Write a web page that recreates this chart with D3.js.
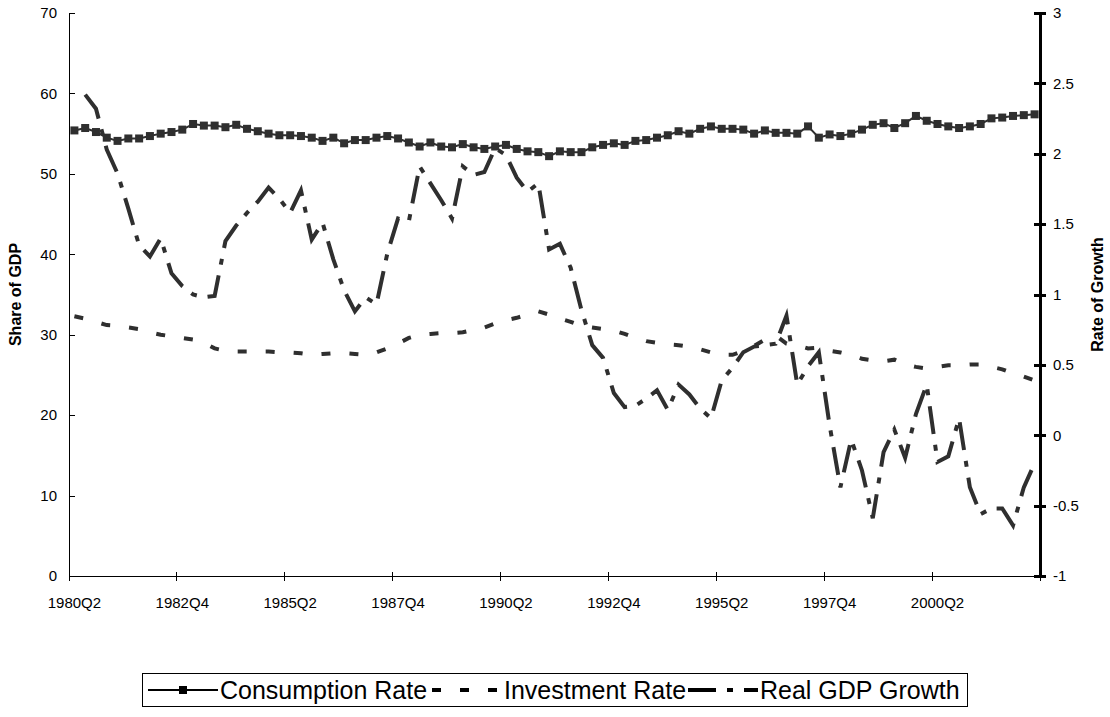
<!DOCTYPE html>
<html>
  <head>
    <meta charset="utf-8">
    <title>rates</title>
    <script type="text/javascript" src="https://cdn.jsdelivr.net/npm/d3@7"></script>
    <style type="text/css">
      body { margin: 0; background: #fff; }
      svg text { font-family: "Liberation Sans", Arial, sans-serif; fill: #000; }
      .axis path, .axis line { fill: none; stroke: #000; shape-rendering: crispEdges; }
      .axis text { font-size: 15px; }
    </style>
  </head>
  <body>
    <script type="text/javascript">
      var w = 1110, h = 717;

      // categories: quarters from 1980Q2, 90 of them
      var startYear = 1980, startQ = 2, nQuarters = 90;
      var quarters = [];
      for (var i = 0; i < nQuarters; i++) {
        var q = startQ - 1 + i;
        quarters.push((startYear + Math.floor(q / 4)) + "Q" + (q % 4 + 1));
      }
      var tickLabels = ["1980Q2", "1982Q4", "1985Q2", "1987Q4", "1990Q2", "1992Q4", "1995Q2", "1997Q4", "2000Q2"];

      var consumption = [
        55.4, 55.7, 55.2, 54.5, 54.1, 54.4, 54.4, 54.7, 55.0, 55.2,
        55.5, 56.2, 56.0, 56.0, 55.8, 56.1, 55.6, 55.3, 55.0, 54.8,
        54.8, 54.7, 54.5, 54.1, 54.5, 53.8, 54.2, 54.2, 54.5, 54.7,
        54.4, 53.9, 53.4, 53.9, 53.4, 53.3, 53.7, 53.3, 53.1, 53.4,
        53.6, 53.1, 52.8, 52.7, 52.2, 52.8, 52.7, 52.7, 53.3, 53.6,
        53.8, 53.6, 54.1, 54.2, 54.5, 54.8, 55.3, 55.0, 55.6, 55.9,
        55.6, 55.6, 55.5, 55.0, 55.4, 55.1, 55.1, 55.0, 55.9, 54.5,
        54.9, 54.7, 55.0, 55.5, 56.1, 56.3, 55.7, 56.3, 57.2, 56.6,
        56.2, 55.9, 55.7, 55.9, 56.2, 56.9, 57.0, 57.2, 57.3, 57.4
      ];
      var investment = [
        32.3, 32.0, 31.6, 31.2, 31.1, 30.9, 30.7, 30.3, 30.0, 29.8,
        29.6, 29.4, 29.0, 28.3, 28.0, 27.9, 27.9, 27.9, 27.9, 27.8,
        27.8, 27.7, 27.5, 27.6, 27.7, 27.7, 27.6, 27.5, 27.8, 28.3,
        28.9, 29.6, 30.0, 30.1, 30.2, 30.2, 30.3, 30.6, 30.9, 31.4,
        31.8, 32.1, 32.5, 32.9, 32.5, 32.0, 31.6, 31.1, 30.9, 30.7,
        30.5, 30.1, 29.6, 29.2, 29.0, 28.8, 28.7, 28.5, 28.2, 27.8,
        27.5, 27.5, 28.0, 28.6, 29.4, 29.9, 28.9, 28.7, 28.3, 28.4,
        28.0, 27.8, 27.5, 27.0, 26.8, 26.7, 26.9, 26.3, 26.0, 25.8,
        26.0, 26.2, 26.2, 26.3, 26.3, 26.0, 25.7, 25.2, 24.8, 24.3
      ];
      // real GDP growth, right axis; no value for the first quarter
      var gdpGrowth = [
        null, 2.42, 2.32, 2.03, 1.86, 1.61, 1.35, 1.27, 1.40, 1.15,
        1.06, 1.00, 0.98, 0.99, 1.38, 1.49, 1.58, 1.66, 1.76, 1.68,
        1.58, 1.74, 1.39, 1.51, 1.25, 1.03, 0.88, 0.98, 0.93, 1.29,
        1.54, 1.52, 1.91, 1.79, 1.67, 1.54, 1.91, 1.85, 1.87, 2.04,
        1.99, 1.83, 1.73, 1.79, 1.32, 1.36, 1.19, 0.89, 0.64, 0.55,
        0.30, 0.20, 0.21, 0.26, 0.32, 0.18, 0.36, 0.29, 0.19, 0.12,
        0.39, 0.48, 0.59, 0.63, 0.64, 0.65, 0.85, 0.36, 0.49, 0.59,
        0.07, -0.37, -0.03, -0.25, -0.59, -0.12, 0.04, -0.16, 0.15, 0.36,
        -0.19, -0.15, 0.12, -0.37, -0.56, -0.52, -0.52, -0.64, -0.37, -0.20
      ];
      var leftTicks = [0, 10, 20, 30, 40, 50, 60, 70];
      var rightTicks = [-1, -0.5, 0, 0.5, 1, 1.5, 2, 2.5, 3];

      // plot edges ("top" is taken by window.top, so use other names)
      var pLeft = 69, pRight = 1040, pTop = 13, pBottom = 576;
      var ink = "#2f2f2f";
      var invDash = "9,19", gdpDash = "28,11,6,11";

      var x = d3.scaleBand().domain(quarters).range([pLeft, pRight]).padding(0);
      var bw = x.bandwidth();
      var cx = function(i) { return x(quarters[i]) + bw / 2; };
      var yL = d3.scaleLinear().domain([0, 70]).range([pBottom, pTop]);
      var yR = d3.scaleLinear().domain([-1, 3]).range([pBottom, pTop]);

      var svg = d3.select("body").append("svg").attr("width", w).attr("height", h);

      // axes
      var gx = svg.append("g").attr("class", "axis")
        .attr("transform", "translate(0," + pBottom + ")")
        .call(d3.axisBottom(x).tickValues(tickLabels).tickSize(0).tickPadding(21));
      gx.select(".domain").remove();
      gx.append("line").attr("x1", pLeft).attr("x2", pRight).attr("y1", 0).attr("y2", 0);
      var tickIdx = d3.range(0, nQuarters + 1, 10);
      gx.selectAll(".qtick").data(tickIdx).enter().append("line")
        .attr("class", "qtick")
        .attr("x1", function(i) { return i < nQuarters ? x(quarters[i]) : pRight; })
        .attr("x2", function(i) { return i < nQuarters ? x(quarters[i]) : pRight; })
        .attr("y1", -4).attr("y2", 5);

      var gl = svg.append("g").attr("class", "axis")
        .attr("transform", "translate(" + pLeft + ",0)")
        .call(d3.axisLeft(yL).tickValues(leftTicks).tickSizeInner(-6).tickSizeOuter(0).tickPadding(12)
          .tickFormat(function(d) { return String(d); }));

      var gr = svg.append("g").attr("class", "axis")
        .attr("transform", "translate(" + pRight + ",0)")
        .call(d3.axisRight(yR).tickValues(rightTicks).tickSizeInner(6).tickSizeOuter(0).tickPadding(7)
          .tickFormat(function(d) { return String(d); }));
      gr.select(".domain").attr("stroke-width", 3);
      gr.selectAll(".tick line").attr("x1", -6).attr("stroke-width", 3);

      // axis titles
      svg.append("text")
        .attr("transform", "translate(21," + (pTop + pBottom) / 2 + ") rotate(-90)")
        .attr("text-anchor", "middle").attr("font-size", "16px").attr("font-weight", "bold")
        .text("Share of GDP");
      svg.append("text")
        .attr("transform", "translate(1103," + (pTop + pBottom) / 2 + ") rotate(-90)")
        .attr("text-anchor", "middle").attr("font-size", "16px").attr("font-weight", "bold")
        .text("Rate of Growth");

      // series
      var lineL = d3.line().x(function(d, i) { return cx(i); }).y(function(d) { return yL(d); });
      var lineR = d3.line().defined(function(d) { return d !== null; })
        .x(function(d, i) { return cx(i); }).y(function(d) { return yR(d); });

      svg.append("path").datum(investment)
        .attr("d", lineL).attr("fill", "none").attr("stroke", ink)
        .attr("stroke-width", 4).attr("stroke-dasharray", invDash);

      svg.append("path").datum(gdpGrowth)
        .attr("d", lineR).attr("fill", "none").attr("stroke", ink)
        .attr("stroke-width", 4).attr("stroke-dasharray", gdpDash);

      svg.append("path").datum(consumption)
        .attr("d", lineL).attr("fill", "none").attr("stroke", ink).attr("stroke-width", 2);
      svg.selectAll(".sq").data(consumption).enter().append("rect")
        .attr("class", "sq")
        .attr("x", function(d, i) { return cx(i) - 4; })
        .attr("y", function(d) { return yL(d) - 4; })
        .attr("width", 8).attr("height", 8).attr("fill", ink);

      // legend
      var lg = svg.append("g");
      lg.append("rect").attr("x", 142.5).attr("y", 673.5).attr("width", 825).attr("height", 33)
        .attr("fill", "none").attr("stroke", "#000");
      var items = [
        { name: "Consumption Rate", x0: 148, dash: null, sw: 2, marker: true },
        { name: "Investment Rate", x0: 432, dash: invDash, sw: 4, marker: false },
        { name: "Real GDP Growth", x0: 688, dash: gdpDash, sw: 4, marker: false }
      ];
      items.forEach(function(it) {
        lg.append("line").attr("x1", it.x0).attr("x2", it.x0 + 70).attr("y1", 690).attr("y2", 690)
          .attr("stroke", "#000").attr("stroke-width", it.sw)
          .attr("stroke-dasharray", it.dash);
        if (it.marker) {
          lg.append("rect").attr("x", it.x0 + 31).attr("y", 686).attr("width", 8).attr("height", 8).attr("fill", "#000");
        }
        lg.append("text").attr("x", it.x0 + 72).attr("y", 699).attr("font-size", "25px").text(it.name);
      });
    </script>
  </body>
</html>
